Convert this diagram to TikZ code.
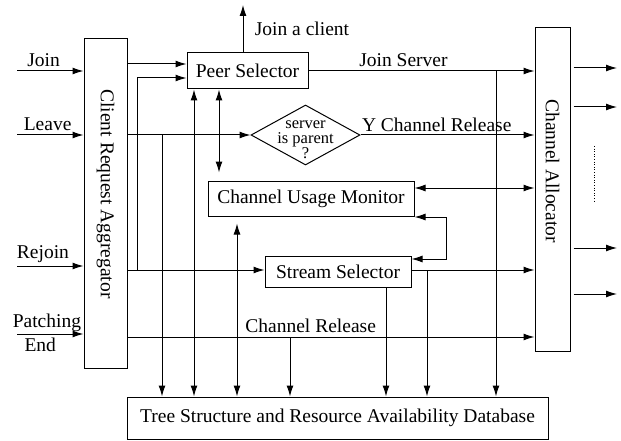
\documentclass[tikz,border=0pt]{standalone}
\usepackage{fontspec}
\setmainfont{Liberation Serif}
\usetikzlibrary{arrows.meta}
\usetikzlibrary{shapes.geometric}
\usetikzlibrary{positioning}

\begin{document}
\begin{tikzpicture}[x=1pt, y=-1pt, line width=1pt,
        >={Latex[length=11pt,width=7pt]},
        font=\fontsize{19.5}{22}\selectfont,
        box/.style={draw, inner sep=0pt}]
        \useasboundingbox (0,0) rectangle (621,441);

        % Blocks
        \node[box, minimum width=43, minimum height=329] (agg) at (105.5,203.5) {};
        \node[rotate=-90] (aggtxt) at (105.5,194) {Client Request Aggregator};
        \node[box, minimum width=121, minimum height=36] (peer) at (247.5,71) {Peer Selector};
        \node[box, diamond, minimum width=109, minimum height=60] (par) at (305.5,135) {};
        \node[align=center, inner sep=0pt, font=\fontsize{16.5}{15}\selectfont] (partxt) at (305.5,140) {server\\is parent\\?};
        \node[box, minimum width=206, minimum height=35] (mon) at (311,198.5) {Channel Usage Monitor};
        \node[box, minimum width=146, minimum height=31] (strm) at (338,271.5) {Stream Selector};
        \node[box, minimum width=35, minimum height=323] (alloc) at (552.5,189.5) {};
        \node[rotate=-90] (alloctxt) at (552.5,171) {Channel Allocator};
        \node[box, minimum width=421, minimum height=42] (db) at (337.5,418) {Tree Structure and Resource Availability Database};

        % Requests coming in
        \coordinate (inJoin) at (17,71);
        \coordinate (inLeave) at (17,135);
        \coordinate (inRejoin) at (17,266);
        \coordinate (inPatch) at (17,334);
        \draw[->] (inJoin) -- (inJoin -| agg.west) node[above, pos=0.4] {Join};
        \draw[->] (inLeave) -- (inLeave -| agg.west) node[above, pos=0.46] {Leave};
        \draw[->] (inRejoin) -- (inRejoin -| agg.west) node[above, pos=0.39] {Rejoin};
        \draw[->] (inPatch) -- (inPatch -| agg.west)
            node[above, pos=0.45, inner sep=2pt] {Patching}
            node[below, pos=0.35, inner sep=3pt] {End};

        % Aggregator outputs
        \coordinate (rj) at (137,270);
        \coordinate (lv) at (162,135);
        \coordinate (pt) at (290,337);
        \draw[->] (agg.east |- 0,64) -- (peer.west |- 0,64);
        \draw[->] (agg.east |- rj) -- (strm.west |- rj);
        \draw[->] (rj) |- (peer.west |- 0,78);
        \draw[->] (agg.east |- par.west) -- (par.west);
        \draw[->] (lv) -- (db.north -| lv);
        \draw[->] (agg.east |- pt) -- (alloc.west |- pt) node[above, pos=0.45] {Channel Release};
        \draw[->] (pt) -- (db.north -| pt);

        % Peer Selector
        \coordinate (jc) at (243,5);
        \draw[->] (peer.north -| jc) -- (jc) node[right, pos=0.5, xshift=8pt] {Join a client};
        \draw[->] (peer.east) -- (alloc.west |- peer.east) node[above, pos=0.42] {Join Server};
        \coordinate (js) at (496,71);
        \draw[->] (js) -- (db.north -| js);
        \draw[<->] (peer.south -| 194,0) -- (db.north -| 194,0);
        \draw[<->, shorten >=8pt] (peer.south -| 219,0) -- (mon.north -| 219,0);

        % Parent check
        \draw[->] (par.east) -- (alloc.west |- par.east)
            node[anchor=south west, pos=0, inner xsep=1pt, inner ysep=3pt] {Y Channel Release};

        % Channel Usage Monitor
        \draw[<->, shorten <=7pt] (mon.south -| 237,0) -- (db.north -| 237,0);
        \draw[<->] (mon.east |- 0,188) -- (alloc.west |- 0,188);
        \coordinate (lp) at (446,259);
        \draw[<->] (mon.east |- 0,217) -| (lp) -- (strm.east |- lp);

        % Stream Selector
        \coordinate (ss) at (427,270);
        \draw[->] (strm.east |- ss) -- (alloc.west |- ss);
        \draw[->] (ss) -- (db.north -| ss);
        \draw[->] (strm.south -| 386,0) -- (db.north -| 386,0);

        % Allocated channels
        \foreach \y in {68,107,248,294}
            \draw[->] ([xshift=3pt]alloc.east |- 0,\y) -- (617,\y);
        \draw[dotted, line width=0.6pt] (594,146) -- (594,202);
    \end{tikzpicture}
\end{document}
